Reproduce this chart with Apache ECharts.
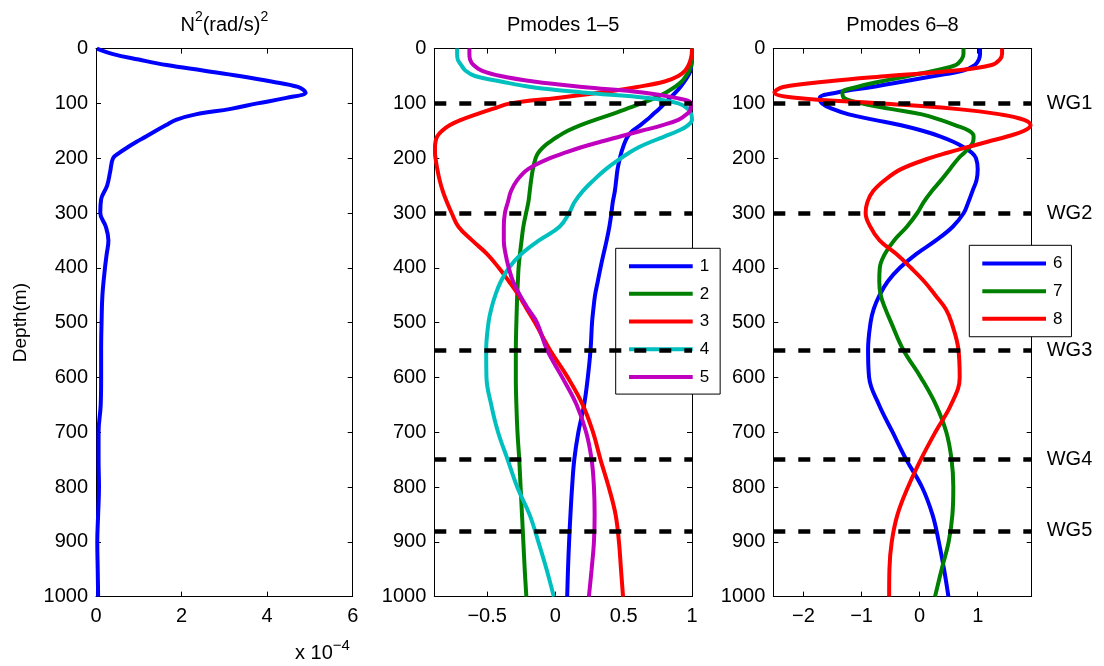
<!DOCTYPE html>
<html style="height: 100%">
<head>
<meta charset="utf-8">
<script src="https://cdn.jsdelivr.net/npm/echarts@6/dist/echarts.min.js"></script>
</head>
<body style="height: 100%; margin: 0; background: #fff">
<div id="container" style="width: 1104px; height: 666px"></div>
<script>
// N^2 profile, in units of 1e-4 (rad/s)^2
var depthN2 = [0,10,20,30,40,50,60,70,80,90,100,110,120,130,140,150,160,170,180,190,200,225,250,275,300,325,350,375,400,450,500,550,600,650,700,750,800,850,900,950,1000];
var n2 = [0.02,0.4,1.0,1.65,2.5,3.35,4.1,4.72,4.9,4.45, 3.77,3.15,2.33,1.87,1.63,1.4,1.18,0.95,0.74,0.55, 0.4,0.33,0.26,0.12,0.1,0.23,0.29,0.25,0.21,0.15, 0.13,0.12,0.12,0.11,0.06,0.06,0.07,0.05,0.03,0.04, 0.05];

// pressure modes, all sampled at the same depths
var depth = [0,10,20,30,40,50,60,70,80,90,100,110,120,130,140,150,160,170,180,190,200,220,240,260,280,300,325,350,375,400,425,450,475,500,550,600,650,700,750,800,850,900,950,1000];
var mode1 = [1.0,1.0,1.0,0.995,0.99,0.97,0.945,0.915,0.88,0.84, 0.80,0.76,0.715,0.67,0.62,0.565,0.53,0.51,0.495,0.482, 0.472,0.455,0.445,0.435,0.42,0.41,0.395,0.375,0.352,0.33, 0.31,0.29,0.278,0.268,0.257,0.237,0.21,0.168,0.138,0.122, 0.11,0.1,0.092,0.086];
var mode2 = [1.0,1.0,1.0,0.995,0.98,0.955,0.925,0.875,0.81,0.73, 0.63,0.52,0.41,0.29,0.18,0.09,0.02,-0.04,-0.09,-0.125, -0.145,-0.165,-0.178,-0.188,-0.198,-0.215,-0.235,-0.248,-0.26,-0.27, -0.275,-0.28,-0.283,-0.286,-0.29,-0.29,-0.286,-0.278,-0.265,-0.255, -0.245,-0.235,-0.225,-0.213];
var mode3 = [1.0,0.998,0.99,0.975,0.95,0.9,0.8,0.6,0.33,0.01, -0.33,-0.46,-0.58,-0.69,-0.775,-0.83,-0.865,-0.878,-0.882,-0.882, -0.878,-0.865,-0.848,-0.825,-0.795,-0.76,-0.71,-0.61,-0.5,-0.415, -0.34,-0.27,-0.21,-0.15,-0.04,0.09,0.2,0.275,0.33,0.39, 0.44,0.465,0.48,0.495];
var mode4 = [-0.72,-0.72,-0.715,-0.69,-0.66,-0.59,-0.4,-0.18,0.2,0.68, 0.9,0.97,0.995,1.0,0.97,0.9,0.8,0.7,0.61,0.54, 0.48,0.37,0.28,0.2,0.14,0.1,0.03,-0.12,-0.25,-0.34, -0.4,-0.44,-0.47,-0.49,-0.507,-0.505,-0.47,-0.42,-0.35,-0.28, -0.19,-0.125,-0.065,-0.012];
var mode5 = [-0.63,-0.63,-0.625,-0.6,-0.54,-0.4,-0.16,0.2,0.64,0.88, 0.99,0.99,0.96,0.9,0.78,0.63,0.48,0.33,0.19,0.07, -0.04,-0.2,-0.28,-0.325,-0.348,-0.37,-0.378,-0.378,-0.365,-0.342, -0.31,-0.26,-0.2,-0.135,-0.061,0.05,0.155,0.225,0.265,0.282, 0.287,0.282,0.265,0.245];
var mode6 = [1.04,1.04,1.02,0.95,0.75,0.25,-0.28,-0.82,-1.42,-1.72, -1.68,-1.5,-1.22,-0.78,-0.32,0.05,0.35,0.58,0.76,0.9, 0.97,1.0,0.98,0.91,0.84,0.76,0.57,0.28,-0.06,-0.34, -0.55,-0.69,-0.79,-0.845,-0.888,-0.87,-0.7,-0.465,-0.23,0.04, 0.22,0.33,0.42,0.496];
var mode7 = [0.755,0.755,0.72,0.62,0.27,-0.2,-0.67,-1.08,-1.33,-1.3, -1.0,-0.5,0.04,0.36,0.62,0.85,0.93,0.92,0.86,0.77, 0.67,0.52,0.37,0.21,0.07,-0.04,-0.22,-0.44,-0.6,-0.686, -0.695,-0.67,-0.59,-0.49,-0.28,0.02,0.28,0.46,0.55,0.58, 0.565,0.5,0.38,0.265];
var mode8 = [1.42,1.42,1.38,1.24,0.62,-0.55,-1.6,-2.35,-2.5,-2.1, -0.65,0.62,1.39,1.8,1.91,1.8,1.52,1.17,0.82,0.48, 0.17,-0.32,-0.6,-0.8,-0.9,-0.93,-0.85,-0.69,-0.4,-0.15, 0.08,0.27,0.45,0.55,0.669,0.69,0.54,0.27,0.02,-0.2, -0.38,-0.48,-0.52,-0.525];

var wgDepth = [100, 300, 550, 750, 880];
var wgName = ['WG1', 'WG2', 'WG3', 'WG4', 'WG5'];
var xTicks1 = [0, 2, 4, 6];
var xTicks2 = [-0.5, 0, 0.5, 1];
var xTicks3 = [-2, -1, 0, 1];

var dom = document.getElementById("container");
var myChart = echarts.init(dom);

function pairs(xs, ds) {
    return xs.map(function (v, i) { return [v, ds[i]]; });
}

// matlab style labels: real minus sign, no thousands separator
function fmt(v) {
    return v < 0 ? '\u2212' + (-v) : String(v);
}

var FONT = 'Liberation Sans, Arial, sans-serif';
var tick = { inside: true, length: 5, lineStyle: { color: '#000', width: 1 } };
var line = { onZero: false, lineStyle: { color: '#000', width: 1 } };
var titleRich = {
    a: { fontSize: 20, lineHeight: 30, color: '#000', fontFamily: FONT },
    s: { fontSize: 14, verticalAlign: 'top', lineHeight: 30, color: '#000', fontFamily: FONT }
};

var panels = [
    { min: 0, max: 6, ticks: xTicks1, title: '{a|N}{s|2}{a|(rad/s)}{s|2}' },
    { min: -0.887, max: 1, ticks: xTicks2, title: '{a|Pmodes 1\u20135}' },
    { min: -2.52, max: 1.93, ticks: xTicks3, title: '{a|Pmodes 6\u20138}' }
];

var xAxes = [], yAxes = [];
panels.forEach(function (p, i) {
    xAxes.push({
        type: 'value', gridIndex: i, position: 'bottom', min: p.min, max: p.max,
        axisLine: line, splitLine: { show: false },
        axisTick: Object.assign({ customValues: p.ticks }, tick),
        axisLabel: { customValues: p.ticks, formatter: fmt, fontSize: 20, color: '#000', fontFamily: FONT, margin: 10 }
    });
});
panels.forEach(function (p, i) {
    xAxes.push({
        type: 'value', gridIndex: i, position: 'top', min: p.min, max: p.max,
        name: p.title, nameLocation: 'middle', nameGap: 8,
        nameTextStyle: { rich: titleRich },
        axisLine: line, splitLine: { show: false },
        axisTick: Object.assign({ customValues: p.ticks }, tick),
        axisLabel: { show: false }
    });
});
panels.forEach(function (p, i) {
    yAxes.push({
        type: 'value', gridIndex: i, position: 'left', min: 0, max: 1000, interval: 100, inverse: true,
        name: i === 0 ? 'Depth(m)' : '', nameLocation: 'middle', nameGap: 66,
        nameTextStyle: { fontSize: 19, color: '#000', fontFamily: FONT },
        axisLine: line, splitLine: { show: false }, axisTick: tick,
        axisLabel: { formatter: fmt, fontSize: 20, color: '#000', fontFamily: FONT, margin: 8 }
    });
});
panels.forEach(function (p, i) {
    yAxes.push({
        type: 'value', gridIndex: i, position: 'right', min: 0, max: 1000, interval: 100, inverse: true,
        axisLine: line, splitLine: { show: false }, axisTick: tick,
        axisLabel: { show: false }
    });
});

function curve(name, color, xi, xs, ds) {
    return {
        name: name, type: 'line', xAxisIndex: xi, yAxisIndex: xi,
        data: pairs(xs, ds), showSymbol: false, symbol: 'none',
        smooth: 0.4,
        lineStyle: { color: color, width: 4 }, itemStyle: { color: color }
    };
}

function wgLines(xi, withLabel) {
    return {
        name: 'wg' + xi, type: 'line', xAxisIndex: xi, yAxisIndex: xi, data: [],
        markLine: {
            silent: true, symbol: ['none', 'none'], animation: false,
            lineStyle: { color: '#000', width: 4.5, type: [12, 13] },
            label: {
                show: withLabel, position: 'end', distance: 15, formatter: '{b}',
                fontSize: 20, color: '#000', fontFamily: FONT
            },
            data: wgDepth.map(function (d, k) { return { yAxis: d, name: wgName[k] }; })
        }
    };
}

var legendBase = {
    orient: 'vertical', icon: 'rect', itemWidth: 63.7, itemHeight: 4, itemGap: 10.67,
    borderColor: '#000', borderWidth: 1, backgroundColor: '#fff', borderRadius: 0,
    selectedMode: false,
    textStyle: { fontSize: 17, lineHeight: 16, color: '#000', fontFamily: FONT, padding: [0, 0, 0, 2] }
};

var option = {
    animation: false,
    backgroundColor: '#fff',
    grid: [
        { left: 96, top: 48.6, width: 256.7, height: 548 },
        { left: 434.3, top: 48.6, width: 257.7, height: 548 },
        { left: 773.3, top: 48.6, width: 258.4, height: 548 }
    ],
    xAxis: xAxes,
    yAxis: yAxes,
    legend: [
        Object.assign({ data: ['1', '2', '3', '4', '5'], left: 615.7, top: 248.3, padding: [9.4, 11, 8.7, 13.3] }, legendBase),
        Object.assign({ data: ['6', '7', '8'], left: 969.3, top: 245.3, padding: [9.7, 9, 9.4, 13] }, legendBase)
    ],
    graphic: [{
        type: 'text', left: 295, top: 638,
        style: {
            text: '{a|x 10}{s|\u22124}',
            rich: {
                a: { fontSize: 20, lineHeight: 30, fill: '#000', fontFamily: FONT },
                s: { fontSize: 15, lineHeight: 30, verticalAlign: 'top', fill: '#000', fontFamily: FONT }
            }
        }
    }],
    series: [
        curve('N2', '#0000ff', 0, n2, depthN2),
        curve('1', '#0000ff', 1, mode1, depth),
        curve('2', '#008000', 1, mode2, depth),
        curve('3', '#ff0000', 1, mode3, depth),
        curve('4', '#00bfbf', 1, mode4, depth),
        curve('5', '#bf00bf', 1, mode5, depth),
        curve('6', '#0000ff', 2, mode6, depth),
        curve('7', '#008000', 2, mode7, depth),
        curve('8', '#ff0000', 2, mode8, depth),
        wgLines(1, false),
        wgLines(2, true)
    ]
};

myChart.setOption(option);
</script>
</body>
</html>
